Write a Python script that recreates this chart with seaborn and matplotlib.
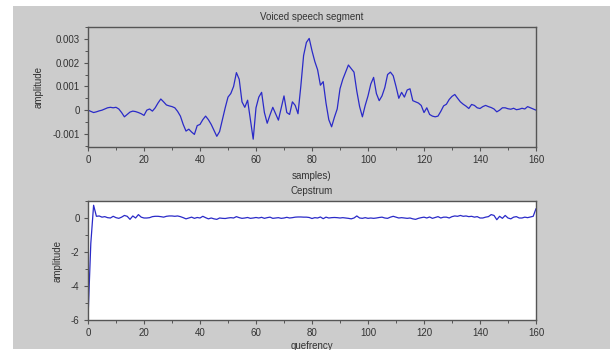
import numpy as np
import pandas as pd
import matplotlib
matplotlib.use('Agg')
import matplotlib.pyplot as plt
import seaborn as sns
from matplotlib.ticker import MultipleLocator, FuncFormatter

# speech segment values, one per sample (x 1e-3)
samples = list(range(161))
speech_milli = [
    0.0, -0.05, -0.1, -0.07, -0.03, 0.0, 0.05, 0.1, 0.12, 0.1,
    0.12, 0.05, -0.1, -0.28, -0.18, -0.08, -0.04, -0.06, -0.1, -0.15,
    -0.22, 0.0, 0.05, -0.04, 0.1, 0.3, 0.47, 0.35, 0.22, 0.18,
    0.15, 0.1, -0.05, -0.25, -0.6, -0.88, -0.8, -0.92, -1.02, -0.65,
    -0.6, -0.4, -0.25, -0.4, -0.6, -0.85, -1.1, -0.9, -0.4, 0.1,
    0.55, 0.7, 1.0, 1.58, 1.3, 0.35, 0.12, 0.42, -0.4, -1.22,
    0.1, 0.55, 0.75, -0.1, -0.55, -0.2, 0.12, -0.15, -0.42, 0.1,
    0.6, -0.1, -0.18, 0.35, 0.2, -0.15, 1.0, 2.3, 2.85, 3.02,
    2.5, 2.05, 1.7, 1.05, 1.2, 0.3, -0.4, -0.7, -0.3, 0.05,
    0.9, 1.3, 1.6, 1.9, 1.75, 1.6, 0.8, 0.15, -0.28, 0.2,
    0.6, 1.1, 1.38, 0.7, 0.4, 0.6, 0.95, 1.5, 1.6, 1.45,
    1.0, 0.5, 0.75, 0.55, 0.85, 0.9, 0.4, 0.35, 0.3, 0.2,
    -0.1, 0.1, -0.18, -0.25, -0.28, -0.25, -0.05, 0.18, 0.25, 0.45,
    0.58, 0.66, 0.5, 0.35, 0.25, 0.17, 0.07, 0.24, 0.2, 0.1,
    0.07, 0.15, 0.2, 0.15, 0.11, 0.05, -0.07, 0.0, 0.1, 0.1,
    0.06, 0.04, 0.08, 0.02, 0.04, 0.08, 0.05, 0.15, 0.1, 0.05,
    0.0,
]

# cepstrum values
quefrency = list(range(161))
cepstrum = [
    -5.9, -1.5, 0.75, 0.1, 0.12, 0.05, 0.08, 0.02, 0.0, 0.1,
    0.02, -0.02, 0.05, 0.15, 0.1, -0.08, 0.12, 0.0, 0.2, 0.05,
    0.0, 0.0, 0.02, 0.08, 0.1, 0.1, 0.08, 0.05, 0.1, 0.12,
    0.12, 0.1, 0.12, 0.08, 0.02, -0.05, 0.0, 0.05, -0.02, 0.03,
    0.0, 0.1, 0.02, -0.05, 0.0, -0.05, -0.08, 0.0, -0.02, -0.03,
    0.0, 0.02, 0.0, 0.08, 0.02, -0.02, 0.0, 0.03, -0.02, 0.0,
    0.03, 0.0, 0.04, -0.02, 0.02, 0.05, -0.02, 0.0, 0.02, -0.02,
    0.0, 0.04, 0.0, 0.02, 0.05, 0.06, 0.06, 0.05, 0.05, 0.03,
    -0.03, 0.02, 0.0, 0.06, -0.04, 0.05, 0.0, 0.02, 0.03, 0.02,
    0.0, 0.02, 0.0, -0.02, -0.05, 0.0, 0.12, 0.0, -0.02, 0.02,
    -0.02, 0.0, -0.02, 0.0, 0.03, 0.05, 0.0, -0.02, 0.05, 0.1,
    0.05, 0.0, 0.02, 0.0, -0.02, 0.0, -0.05, -0.08, -0.02, 0.02,
    0.05, 0.0, 0.06, -0.02, 0.03, 0.08, 0.0, 0.05, 0.05, 0.0,
    0.08, 0.12, 0.1, 0.15, 0.1, 0.12, 0.08, 0.1, 0.05, 0.08,
    0.0, 0.0, 0.05, 0.08, 0.2, 0.15, -0.1, 0.1, -0.02, 0.15,
    0.0, -0.05, 0.05, 0.08, 0.0, 0.0, 0.05, 0.02, 0.06, 0.1,
    0.55,
]

speech_df = pd.DataFrame({'samples': samples, 'amp': np.array(speech_milli) * 1e-3})
ceps_df = pd.DataFrame({'q': quefrency, 'amp': cepstrum})

sns.set_theme(style='ticks')
plt.rcParams['font.family'] = ['Liberation Sans', 'DejaVu Sans']

gray = '#cccccc'
line_col = '#2a2ac8'
text_col = '#333333'
spine_col = '#555555'
fs = 7

fig = plt.figure(figsize=(6.11, 3.5), dpi=100, facecolor='white')
fig.patches.append(plt.Rectangle((13 / 611, 1 / 350), 597 / 611, 343 / 350,
                                 transform=fig.transFigure, facecolor=gray,
                                 edgecolor='none', zorder=-10))

ax1 = fig.add_axes([88 / 611, 1 - 147 / 350, 448 / 611, 120 / 350])
ax2 = fig.add_axes([88 / 611, 1 - 320 / 350, 448 / 611, 119 / 350])

sns.lineplot(data=speech_df, x='samples', y='amp', ax=ax1, color=line_col, lw=0.9)
sns.lineplot(data=ceps_df, x='q', y='amp', ax=ax2, color=line_col, lw=0.9)

ax1.set_facecolor(gray)
ax2.set_facecolor('white')

ax1.set_xlim(0, 160)
ax1.set_ylim(-0.00155, 0.0035)
ax2.set_xlim(0, 160)
ax2.set_ylim(-6, 1)

ax1.yaxis.set_major_locator(MultipleLocator(0.001))
ax1.yaxis.set_minor_locator(MultipleLocator(0.0005))
ax1.yaxis.set_major_formatter(FuncFormatter(lambda v, p: '%g' % round(v, 6)))
ax2.yaxis.set_major_locator(MultipleLocator(2))
ax2.yaxis.set_minor_locator(MultipleLocator(1))
ax2.yaxis.set_major_formatter(FuncFormatter(lambda v, p: '%g' % v))

for ax, title, xlab, xpad in [(ax1, 'Voiced speech segment', 'samples)', 4),
                              (ax2, 'Cepstrum', 'quefrency', 2)]:
    ax.xaxis.set_major_locator(MultipleLocator(20))
    ax.xaxis.set_minor_locator(MultipleLocator(10))
    ax.tick_params(which='major', length=3, width=0.8, color=spine_col,
                   labelsize=fs, labelcolor=text_col, pad=3)
    ax.tick_params(which='minor', length=2, width=0.7, color=spine_col)
    for s in ax.spines.values():
        s.set_visible(True)
        s.set_color(spine_col)
        s.set_linewidth(1.0)
    ax.set_title(title, fontsize=fs, color=text_col, pad=5)
    ax.set_xlabel(xlab, fontsize=fs, color=text_col, labelpad=xpad)
    ax.set_ylabel('amplitude', fontsize=fs, color=text_col, labelpad=6)

fig.savefig('out.png', dpi=100, facecolor='white')
